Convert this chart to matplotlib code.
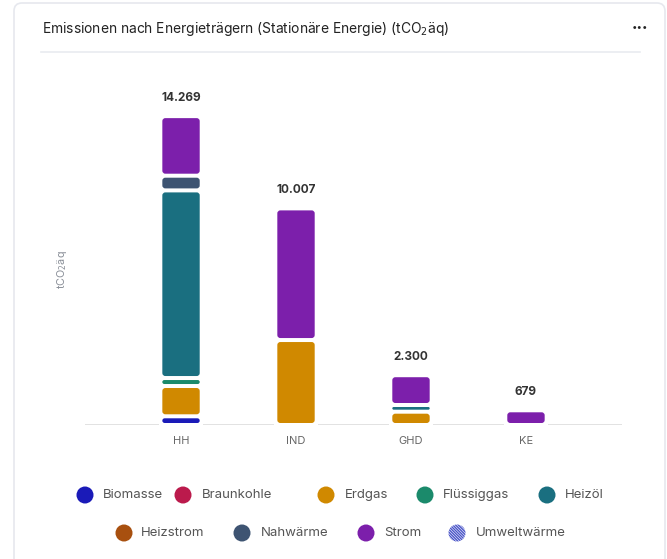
import matplotlib
matplotlib.use('Agg')
import matplotlib.pyplot as plt
import numpy as np
from matplotlib.patches import FancyBboxPatch, Circle

plt.rcParams['font.family'] = ['Inter', 'DejaVu Sans']
plt.rcParams['hatch.color'] = '#4a55c8'
plt.rcParams['hatch.linewidth'] = 1.0

# Daten
sektoren = ['HH', 'IND', 'GHD', 'KE']
traeger = ['Biomasse', 'Braunkohle', 'Erdgas', 'Flüssiggas', 'Heizöl',
           'Heizstrom', 'Nahwärme', 'Strom', 'Umweltwärme']
farben = ['#1a1ab8', '#bb1a4c', '#d08900', '#1b8a6b', '#1a6f80',
          '#a8500f', '#3e5472', '#7c1fab', '#4a55c8']
werte = {
    'Biomasse':    [402, 0, 0, 0],
    'Braunkohle':  [0, 0, 0, 0],
    'Erdgas':      [1399, 3925, 615, 0],
    'Flüssiggas':  [369, 0, 0, 0],
    'Heizöl':      [8668, 0, 309, 0],
    'Heizstrom':   [0, 0, 0, 0],
    'Nahwärme':    [679, 0, 0, 0],
    'Strom':       [2752, 6082, 1376, 679],
    'Umweltwärme': [0, 0, 0, 0],
}
summen = [14269, 10007, 2300, 679]

W, H = 667, 559
fig = plt.figure(figsize=(W / 100, H / 100), dpi=100)

# Karte / Hintergrund
bg = fig.add_axes([0, 0, 1, 1])
bg.set_xlim(0, W)
bg.set_ylim(H, 0)
bg.axis('off')
bg.add_patch(FancyBboxPatch((14, 3), 651, 600, boxstyle='round,pad=0,rounding_size=8',
                            fc='white', ec='#e6e8ee', lw=1.2))
bg.plot([41, 640], [52, 52], color='#e9ebf0', lw=1.2)
bg.text(42, 29, 'Emissionen nach Energieträgern (Stationäre Energie) (tCO$_2$äq)',
        fontsize=9.95, color='#222222', va='center', ha='left')
bg.text(640, 27, '•••', fontsize=7, color='#222222', va='center', ha='center')
bg.text(62, 270, 'tCO$_2$äq', fontsize=7.8, color='#8a8f98', rotation=90,
        va='center', ha='center')

# Diagramm
ax_l, ax_r, ax_b, ax_t = 85, 622, 425, 70
ax = fig.add_axes([ax_l / W, 1 - ax_b / H, (ax_r - ax_l) / W, (ax_b - ax_t) / H])
ax.set_zorder(2)
ax.patch.set_alpha(0)
xmin, xmax, ymax = -0.835, 3.835, 16400
ax.set_xlim(xmin, xmax)
ax.set_ylim(0, ymax)
px_x = (xmax - xmin) / (ax_r - ax_l)   # data x pro Pixel
px_y = ymax / (ax_b - ax_t)            # data y pro Pixel

x = np.arange(len(sektoren))
unten = np.zeros(len(sektoren))
for name, farbe in zip(traeger, farben):
    v = np.array(werte[name], dtype=float)
    bars = ax.bar(x, v, bottom=unten, width=0.325, color=farbe, zorder=3)
    # abgerundete Segmente mit weissem Abstand
    for r in bars:
        r.set_visible(False)
        if r.get_height() <= 0:
            continue
        gap = 2 * px_y
        h = max(r.get_height() - 2 * gap, 1.5 * px_y)
        y0 = r.get_y() + (r.get_height() - h) / 2
        rs = min(3, h / px_y / 2)
        ax.add_patch(FancyBboxPatch((r.get_x(), y0), r.get_width(), h,
                                    boxstyle=f'round,pad=0,rounding_size={rs * px_x}',
                                    mutation_aspect=px_y / px_x,
                                    fc=farbe, ec='none', zorder=3))
    unten += v

for xi, s in zip(x, summen):
    ax.annotate(f'{s:,}'.replace(',', '.'), (xi, s), xytext=(0, 9),
                textcoords='offset points', ha='center', va='bottom',
                fontsize=8.5, fontweight='bold', color='#333333')

ax.axhline(0, color='#dddddd', lw=1.2, zorder=1)
for xi in x:
    ax.bar(xi, 1.5 * px_y, bottom=-0.75 * px_y, width=0.325 + 6 * px_x,
           color='white', zorder=2)
ax.set_yticks([])
ax.set_xticks(x)
ax.set_xticklabels(sektoren, fontsize=8, color='#666666')
ax.tick_params(axis='x', length=0, pad=8)
for sp in ax.spines.values():
    sp.set_visible(False)

# Legende
reihe1 = [(85, 103), (183, 202), (326, 345), (425, 443), (547, 565)]
reihe2 = [(124, 141), (242, 261), (366, 384), (457, 476)]
pos = [(c, t, 495) for c, t in reihe1] + [(c, t, 533) for c, t in reihe2]
for (c, t, y), name, farbe in zip(pos, traeger, farben):
    if name == 'Umweltwärme':
        bg.add_patch(Circle((c, y), 8.5, fc='white', ec=farbe, lw=0, hatch='\\' * 12))
    else:
        bg.add_patch(Circle((c, y), 8.5, fc=farbe, ec='none'))
    bg.text(t, y, name, fontsize=9.5, color='#555555', va='center', ha='left')

fig.savefig('out.png', dpi=100)
